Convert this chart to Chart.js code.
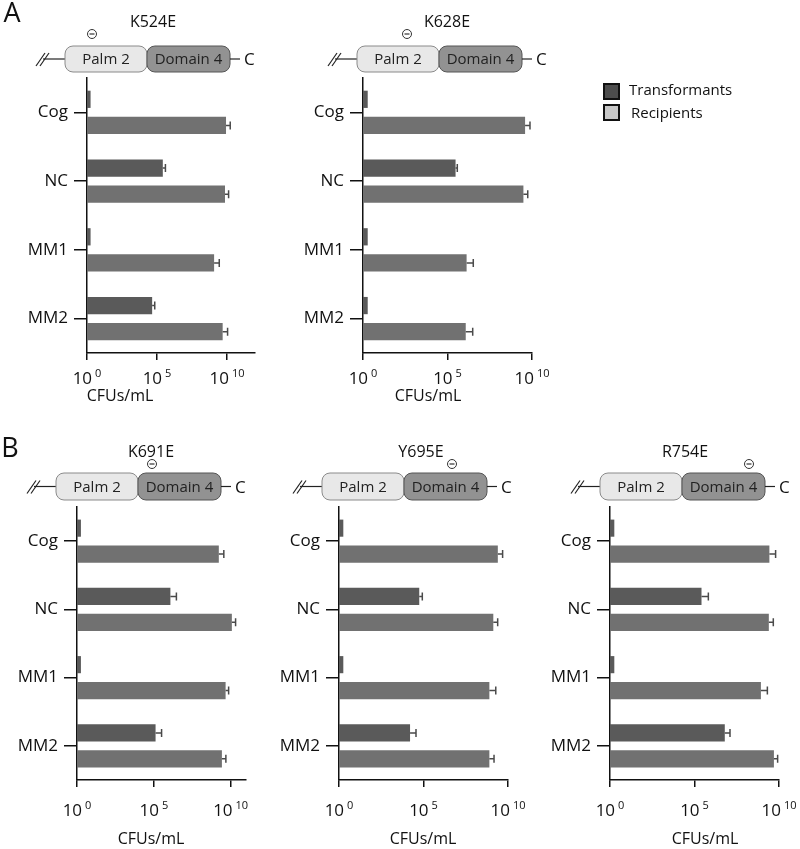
<!DOCTYPE html>
<html>
<head>
<meta charset="utf-8">
<script src="https://cdn.jsdelivr.net/npm/chart.js@4.4.0/dist/chart.umd.min.js"></script>
<style>
  body { margin: 0; background: #fff; }
  #fig { position: relative; width: 800px; height: 849px; overflow: hidden; font-family: "Open Sans", sans-serif; }
  #fig canvas { position: absolute; }
  #overlay { position: absolute; left: 0; top: 0; pointer-events: none; }
</style>
</head>
<body>
<div id="fig"></div>
<script>
// =============================================================================
// DATA (CFUs/mL)
// =============================================================================

const categories = ["Cog", "NC", "MM1", "MM2"];
const seriesNames = ["Transformants", "Recipients"];
const xTickValues = [1, 1e5, 1e10];
const xTickExponents = ["0", "5", "10"];
const xAxisTitle = "CFUs/mL";

// K524E
const k524eTransformants = [1.8, 2.6e5, 1.8, 4.5e4];
const k524eTransformantsErr = [0, 1.4e5, 0, 2.4e4];
const k524eRecipients = [8.5e9, 7.2e9, 1.2e9, 4.9e9];
const k524eRecipientsErr = [8.5e9, 5.8e9, 1.6e9, 6.1e9];

// K628E
const k628eTransformants = [1.9, 3.0e5, 1.9, 1.9];
const k628eTransformantsErr = [0, 0.8e5, 0, 0];
const k628eRecipients = [3.9e9, 3.1e9, 1.35e6, 1.2e6];
const k628eRecipientsErr = [3.7e9, 2.5e9, 2.0e6, 1.9e6];

// K691E
const k691eTransformants = [1.8, 1.2e6, 1.8, 1.3e5];
const k691eTransformantsErr = [0, 1.75e6, 0, 1.9e5];
const k691eRecipients = [1.7e9, 1.2e10, 4.7e9, 2.7e9];
const k691eRecipientsErr = [1.9e9, 0.9e10, 2.7e9, 2.2e9];

// Y695E
const y695eTransformants = [1.8, 5.6e4, 1.8, 1.6e4];
const y695eTransformantsErr = [0, 2.9e4, 0, 2.0e4];
const y695eRecipients = [2.5e9, 1.35e9, 7.9e8, 7.9e8];
const y695eRecipientsErr = [2.3e9, 1.1e9, 1.1e9, 0.7e9];

// R754E
const r754eTransformants = [1.8, 2.6e5, 1.8, 6.2e6];
const r754eTransformantsErr = [0, 4.0e5, 0, 6.4e6];
const r754eRecipients = [2.7e9, 2.5e9, 8.5e8, 5.0e9];
const r754eRecipientsErr = [3.6e9, 2.1e9, 1.2e9, 3.3e9];

// =============================================================================
// LAYOUT
// =============================================================================

const FONT = '"Open Sans", sans-serif';
const INK = "#111";
const TRANSFORMANT_COLOR = "#5a5a5a";
const RECIPIENT_COLOR = "#717171";

const ROW_A = { chartTop: 78, axisY: 353, labelY: 379, titleY: 396, headY: 21, minusY: 34, boxTop: 46, boxH: 26 };
const ROW_B = { chartTop: 507, axisY: 780, labelY: 811, titleY: 839, headY: 451, minusY: 464, boxTop: 473, boxH: 27 };

const panels = [
  { name: "K524E", row: ROW_A, x0: 87, x1: 255, xMax: 1e12, titleX: 120, headX: 153, palmX: 65, minusX: 92,
    t: k524eTransformants, tErr: k524eTransformantsErr, r: k524eRecipients, rErr: k524eRecipientsErr },
  { name: "K628E", row: ROW_A, x0: 363, x1: 532, xMax: 1e10, titleX: 428, headX: 447, palmX: 357, minusX: 407,
    t: k628eTransformants, tErr: k628eTransformantsErr, r: k628eRecipients, rErr: k628eRecipientsErr },
  { name: "K691E", row: ROW_B, x0: 77, x1: 246, xMax: 1e11, titleX: 151, headX: 151, palmX: 56, minusX: 152,
    t: k691eTransformants, tErr: k691eTransformantsErr, r: k691eRecipients, rErr: k691eRecipientsErr },
  { name: "Y695E", row: ROW_B, x0: 339, x1: 508, xMax: 1e10, titleX: 423, headX: 421, palmX: 322, minusX: 452,
    t: y695eTransformants, tErr: y695eTransformantsErr, r: y695eRecipients, rErr: y695eRecipientsErr },
  { name: "R754E", row: ROW_B, x0: 610, x1: 779, xMax: 1e10, titleX: 705, headX: 685, palmX: 600, minusX: 749,
    t: r754eTransformants, tErr: r754eTransformantsErr, r: r754eRecipients, rErr: r754eRecipientsErr },
];

const LEFT_ROOM = 80;
const RIGHT_ROOM = 25;
const TOP_ROOM = 20;
const BOTTOM_ROOM = 70;

// =============================================================================
// PLUGINS
// =============================================================================

// Horizontal error whiskers (upper side only, as in the figure)
const errorBars = {
  id: "errorBars",
  afterDatasetsDraw(chart) {
    const ctx = chart.ctx;
    const sx = chart.scales.x;
    chart.data.datasets.forEach((ds, di) => {
      const meta = chart.getDatasetMeta(di);
      meta.data.forEach((bar, i) => {
        const err = ds.errors && ds.errors[i];
        if (!err) return;
        const xe = sx.getPixelForValue(ds.data[i] + err);
        ctx.save();
        ctx.strokeStyle = "#4a4a4a";
        ctx.lineWidth = 1.5;
        ctx.beginPath();
        ctx.moveTo(bar.x, bar.y);
        ctx.lineTo(xe, bar.y);
        ctx.moveTo(xe, bar.y - 4);
        ctx.lineTo(xe, bar.y + 4);
        ctx.stroke();
        ctx.restore();
      });
    });
  },
};

// "10^n" tick labels and axis title under the x axis
const xLabels = {
  id: "xLabels",
  afterDraw(chart, args, opts) {
    const ctx = chart.ctx;
    const sx = chart.scales.x;
    ctx.save();
    ctx.fillStyle = INK;
    ctx.textBaseline = "middle";
    ctx.textAlign = "left";
    xTickValues.forEach((v, i) => {
      const px = sx.getPixelForValue(v);
      ctx.font = `17px ${FONT}`;
      const wBase = ctx.measureText("10").width;
      ctx.font = `11px ${FONT}`;
      const wExp = ctx.measureText(xTickExponents[i]).width;
      const gap = 3;
      const start = px - (wBase + gap + wExp) / 2;
      ctx.font = `17px ${FONT}`;
      ctx.fillText("10", start, opts.labelY);
      ctx.font = `11px ${FONT}`;
      ctx.fillText(xTickExponents[i], start + wBase + gap, opts.labelY - 5);
    });
    ctx.font = `16px ${FONT}`;
    ctx.textAlign = "center";
    ctx.fillText(xAxisTitle, opts.titleX, opts.titleY);
    ctx.restore();
  },
};

// =============================================================================
// CHARTS
// =============================================================================

const fig = document.getElementById("fig");

panels.forEach((p) => {
  const row = p.row;
  const left = p.x0 - LEFT_ROOM;
  const top = row.chartTop - TOP_ROOM;
  const width = LEFT_ROOM + (p.x1 - p.x0) + RIGHT_ROOM;
  const height = TOP_ROOM + (row.axisY - row.chartTop) + BOTTOM_ROOM;

  const canvas = document.createElement("canvas");
  canvas.width = width;
  canvas.height = height;
  canvas.style.left = left + "px";
  canvas.style.top = top + "px";
  canvas.style.width = width + "px";
  canvas.style.height = height + "px";
  fig.appendChild(canvas);

  new Chart(canvas, {
    type: "bar",
    data: {
      labels: categories,
      datasets: [
        { label: seriesNames[0], data: p.t, errors: p.tErr, backgroundColor: TRANSFORMANT_COLOR,
          barPercentage: 0.66, categoryPercentage: 0.76 },
        { label: seriesNames[1], data: p.r, errors: p.rErr, backgroundColor: RECIPIENT_COLOR,
          barPercentage: 0.66, categoryPercentage: 0.76 },
      ],
    },
    options: {
      indexAxis: "y",
      responsive: false,
      animation: false,
      devicePixelRatio: 1,
      layout: { padding: { top: TOP_ROOM, right: RIGHT_ROOM, left: 0, bottom: 0 } },
      plugins: {
        legend: { display: false },
        tooltip: { enabled: false },
        xLabels: { labelY: row.labelY - top, titleX: p.titleX - left, titleY: row.titleY - top },
      },
      scales: {
        x: {
          type: "logarithmic",
          min: 1,
          max: p.xMax,
          afterBuildTicks: (s) => { s.ticks = xTickValues.map((v) => ({ value: v })); },
          ticks: { display: false },
          grid: { drawOnChartArea: false, drawTicks: true, tickLength: 7, color: INK, lineWidth: 1.5 },
          border: { display: true, color: INK, width: 1.5 },
          afterFit: (s) => { s.height = BOTTOM_ROOM; s.paddingLeft = 0; s.paddingRight = 0; },
        },
        y: {
          grid: { drawOnChartArea: false, offset: false, tickLength: 13, color: INK, lineWidth: 1.5 },
          border: { display: true, color: INK, width: 1.5 },
          ticks: { color: INK, font: { family: FONT, size: 17 }, padding: 6 },
          afterFit: (s) => { s.width = LEFT_ROOM; s.paddingTop = 0; s.paddingBottom = 0; },
        },
      },
    },
    plugins: [errorBars, xLabels],
  });
});

// =============================================================================
// DOMAIN DIAGRAMS, HEADINGS, LEGEND (SVG overlay)
// =============================================================================

const SVGNS = "http://www.w3.org/2000/svg";
const svg = document.createElementNS(SVGNS, "svg");
svg.setAttribute("id", "overlay");
svg.setAttribute("width", 800);
svg.setAttribute("height", 849);
fig.appendChild(svg);

const el = (tag, attrs, text) => {
  const n = document.createElementNS(SVGNS, tag);
  Object.entries(attrs).forEach(([k, v]) => n.setAttribute(k, v));
  if (text != null) n.textContent = text;
  svg.appendChild(n);
  return n;
};

// text centred vertically on y (cap-height based)
const label = (x, y, text, size, anchor, fill) =>
  el("text", { x, y: y + size * 0.357, "font-size": size, "font-family": FONT,
    "text-anchor": anchor || "middle", fill: fill || INK }, text);

const PALM_W = 82;
const DOMAIN_W = 83;

panels.forEach((p) => {
  const row = p.row;
  const cy = row.boxTop + row.boxH / 2;
  const pL = p.palmX;

  label(p.headX, row.headY, p.name, 16);

  // minus marker
  el("circle", { cx: p.minusX, cy: row.minusY, r: 4.5, fill: "#fff", stroke: "#333", "stroke-width": 1 });
  el("line", { x1: p.minusX - 2.5, y1: row.minusY, x2: p.minusX + 2.5, y2: row.minusY, stroke: "#333", "stroke-width": 1.2 });

  // broken N-terminal line
  el("line", { x1: pL - 29, y1: cy + 7, x2: pL - 20, y2: cy - 6, stroke: "#222", "stroke-width": 1.2 });
  el("line", { x1: pL - 25, y1: cy + 7, x2: pL - 16, y2: cy - 6, stroke: "#222", "stroke-width": 1.2 });
  el("line", { x1: pL - 22, y1: cy, x2: pL, y2: cy, stroke: "#222", "stroke-width": 1.2 });

  // domains
  el("rect", { x: pL, y: row.boxTop, width: PALM_W, height: row.boxH, rx: 8, fill: "#e8e8e8", stroke: "#8a8a8a", "stroke-width": 1 });
  el("rect", { x: pL + PALM_W, y: row.boxTop, width: DOMAIN_W, height: row.boxH, rx: 8, fill: "#929292", stroke: "#555", "stroke-width": 1 });
  label(pL + PALM_W / 2, cy, "Palm 2", 15, "middle", "#222");
  label(pL + PALM_W + DOMAIN_W / 2, cy, "Domain 4", 15, "middle", "#222");

  // C-terminus
  el("line", { x1: pL + PALM_W + DOMAIN_W, y1: cy, x2: pL + PALM_W + DOMAIN_W + 10, y2: cy, stroke: "#222", "stroke-width": 1.2 });
  label(pL + PALM_W + DOMAIN_W + 14, cy, "C", 17, "start");
});

// panel letters
label(12, 12, "A", 27);
label(10, 447, "B", 27);

// legend
el("rect", { x: 604, y: 84, width: 15, height: 15, fill: "#4d4d4d", stroke: INK, "stroke-width": 2 });
el("rect", { x: 604, y: 105, width: 15, height: 15, fill: "#c8c8c8", stroke: INK, "stroke-width": 2 });
label(629, 90, seriesNames[0], 15, "start");
label(631, 113, seriesNames[1], 15, "start");
</script>
</body>
</html>
